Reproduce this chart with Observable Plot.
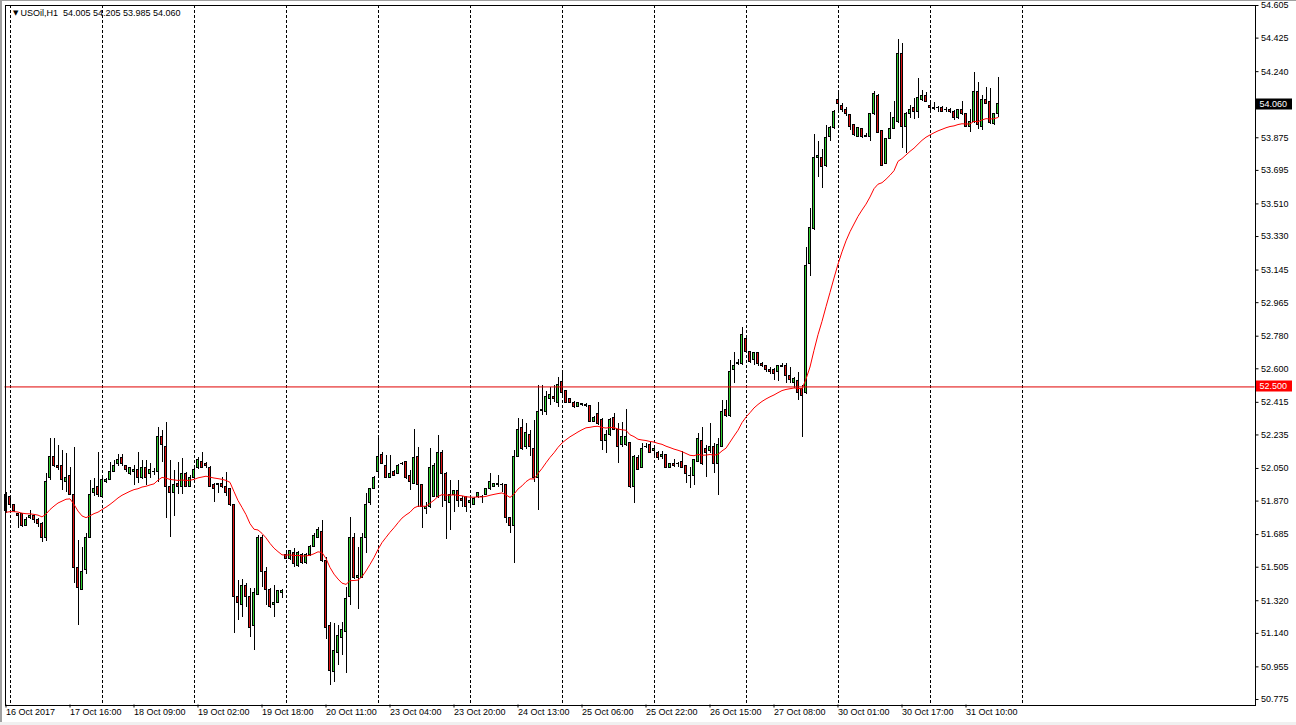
<!DOCTYPE html>
<html><head><meta charset="utf-8">
<script src="https://cdn.jsdelivr.net/npm/d3@7"></script>
<script src="https://cdn.jsdelivr.net/npm/@observablehq/plot@0.6"></script>
<style>
html,body{margin:0;padding:0;background:#fff;}
#wrap{position:relative;width:1296px;height:725px;overflow:hidden;background:#fff;}
.strip{position:absolute;pointer-events:none;}
</style></head><body><div id="wrap"></div>
<script>
const symbol = "USOil,H1";

const open = [
51.818,51.890,51.846,51.796,51.796,51.735,51.774,51.785,51.763,51.746,
51.664,51.995,52.111,52.066,52.066,51.978,52.006,51.901,51.498,51.382,
51.492,51.669,51.912,51.945,51.895,51.973,51.989,52.028,52.072,52.105,
52.061,52.022,52.028,52.044,52.000,52.055,52.022,52.028,52.028,52.226,
52.171,51.945,51.912,51.967,51.950,52.022,51.945,52.000,52.050,52.083,
52.072,52.055,51.956,51.962,51.967,51.950,51.939,51.851,51.338,51.299,
51.404,51.338,51.178,51.354,51.669,51.476,51.377,51.299,51.310,51.360,
51.575,51.553,51.581,51.509,51.575,51.526,51.570,51.619,51.669,51.702,
51.542,51.178,50.924,51.029,51.117,51.145,51.338,51.664,51.443,51.448,
51.669,51.857,51.939,52.033,52.127,52.066,52.000,52.033,52.022,52.072,
52.083,52.006,51.967,52.111,51.956,51.824,51.835,51.895,51.895,52.138,
52.022,51.857,51.906,51.923,51.884,51.890,51.857,51.846,51.890,51.895,
51.906,51.934,51.945,51.956,51.956,51.956,51.774,51.730,52.116,52.276,
52.166,52.232,52.160,51.995,52.370,52.364,52.431,52.442,52.414,52.525,
52.475,52.431,52.414,52.387,52.403,52.398,52.392,52.309,52.348,52.320,
52.199,52.232,52.326,52.265,52.177,52.177,52.188,51.950,52.105,52.055,
52.171,52.182,52.144,52.133,52.116,52.122,52.055,52.077,52.072,52.088,
52.061,52.011,52.006,52.088,52.204,52.155,52.149,52.171,52.072,52.171,
52.370,52.342,52.596,52.630,52.624,52.767,52.690,52.646,52.685,52.629,
52.613,52.596,52.596,52.580,52.612,52.618,52.558,52.519,52.535,52.486,
52.464,53.181,53.369,53.761,53.761,53.717,53.877,53.927,54.086,54.053,
54.031,53.998,53.943,53.877,53.921,53.882,53.877,54.009,54.108,53.910,
53.733,53.871,53.921,53.960,54.340,53.937,54.009,54.037,54.015,54.081,
54.108,54.053,54.037,54.038,54.042,54.031,54.031,54.020,53.982,54.031,
54.009,53.932,53.960,54.130,53.932,54.086,54.075,53.949,54.005
];
const high = [
51.917,51.895,51.851,51.801,51.801,51.779,51.818,51.790,51.774,51.752,
52.022,52.215,52.215,52.177,52.149,52.133,52.055,52.166,51.652,51.614,
51.691,51.984,51.995,52.138,51.995,51.995,52.083,52.094,52.127,52.127,
52.066,52.055,52.066,52.138,52.094,52.094,52.077,52.050,52.276,52.259,
52.304,52.094,52.039,52.083,52.105,52.028,52.011,52.050,52.111,52.138,
52.083,52.061,51.967,51.967,52.000,52.028,51.939,51.851,51.432,51.437,
51.415,51.388,51.388,51.680,51.680,51.503,51.388,51.404,51.377,51.382,
51.586,51.597,51.608,51.592,51.581,51.581,51.625,51.691,51.724,51.763,
51.559,51.200,51.194,51.183,51.200,51.393,51.779,51.691,51.614,51.691,
51.912,51.939,52.006,52.221,52.138,52.122,52.122,52.039,52.072,52.083,
52.088,52.039,52.265,52.166,51.956,51.862,52.160,52.077,52.232,52.149,
52.028,51.984,51.928,51.984,51.895,51.890,51.901,51.890,51.912,51.901,
51.939,52.022,51.967,52.011,51.967,51.962,51.779,52.149,52.326,52.320,
52.298,52.259,52.315,52.508,52.508,52.475,52.497,52.508,52.552,52.580,
52.480,52.436,52.420,52.414,52.409,52.409,52.398,52.337,52.414,52.326,
52.259,52.326,52.353,52.298,52.304,52.375,52.193,52.122,52.122,52.188,
52.188,52.193,52.171,52.144,52.144,52.127,52.077,52.099,52.083,52.144,
52.066,52.055,52.094,52.243,52.276,52.177,52.298,52.188,52.215,52.425,
52.425,52.646,52.690,52.652,52.828,52.773,52.696,52.685,52.690,52.635,
52.618,52.607,52.602,52.618,52.629,52.629,52.607,52.552,52.580,52.508,
53.268,53.485,53.893,53.855,53.810,53.943,53.938,54.026,54.125,54.064,
54.042,53.998,53.943,53.932,53.927,53.899,54.009,54.130,54.114,53.910,
53.871,54.015,54.075,54.417,54.395,54.015,54.053,54.092,54.202,54.136,
54.125,54.075,54.070,54.048,54.048,54.042,54.037,54.026,54.031,54.075,
54.011,54.031,54.235,54.180,54.108,54.152,54.147,54.009,54.205
];
const low = [
51.802,51.840,51.807,51.719,51.724,51.730,51.768,51.746,51.724,51.641,
51.647,51.984,52.055,52.039,51.928,51.917,51.901,51.415,51.183,51.377,
51.465,51.664,51.895,51.890,51.884,51.967,51.984,52.028,52.061,52.061,
52.028,52.011,51.956,51.967,51.989,51.956,51.995,52.011,51.973,52.083,
51.774,51.669,51.785,51.906,51.906,51.945,51.945,51.989,52.044,52.050,
52.050,51.945,51.862,51.912,51.939,51.895,51.840,51.139,51.211,51.227,
51.283,51.117,51.046,51.349,51.393,51.294,51.278,51.227,51.305,51.332,
51.548,51.542,51.503,51.503,51.520,51.520,51.564,51.614,51.664,51.531,
51.106,50.852,50.869,50.962,51.018,50.918,51.294,51.437,51.272,51.443,
51.581,51.846,51.934,52.000,52.072,51.995,51.995,52.006,52.017,52.066,
51.989,51.928,51.962,51.835,51.719,51.796,51.829,51.890,51.884,51.835,
51.658,51.708,51.807,51.835,51.835,51.807,51.846,51.846,51.884,51.857,
51.901,51.928,51.945,51.945,51.917,51.746,51.691,51.526,52.111,52.149,
52.155,52.116,51.973,51.818,52.342,52.342,52.398,52.414,52.387,52.442,
52.409,52.409,52.381,52.387,52.392,52.387,52.304,52.304,52.287,52.149,
52.133,52.226,52.259,52.077,52.166,52.171,51.939,51.857,52.039,52.050,
52.160,52.133,52.105,52.094,52.099,52.050,52.050,52.055,52.055,52.050,
51.967,51.939,51.956,52.083,52.066,52.000,52.133,52.022,51.901,52.166,
52.331,52.331,52.519,52.618,52.618,52.685,52.630,52.618,52.613,52.607,
52.580,52.569,52.535,52.530,52.607,52.519,52.519,52.491,52.425,52.221,
52.458,53.110,53.364,53.656,53.595,53.711,53.855,53.921,54.026,54.015,
53.993,53.915,53.882,53.875,53.871,53.877,53.855,53.998,53.899,53.717,
53.728,53.866,53.921,53.954,53.816,53.788,53.982,53.976,53.982,54.075,
54.070,54.026,54.026,54.015,54.015,54.015,54.009,53.971,53.976,53.998,
53.930,53.904,53.954,53.921,53.915,54.059,53.949,53.943,53.985
];
const close = [
51.901,51.851,51.813,51.785,51.730,51.768,51.790,51.763,51.746,51.669,
51.978,52.111,52.061,52.055,51.989,52.000,51.906,51.503,51.388,51.481,
51.669,51.906,51.939,51.901,51.989,51.989,52.028,52.066,52.099,52.072,
52.039,52.050,52.039,51.995,52.055,52.000,52.044,52.033,52.221,52.177,
51.945,51.912,51.956,51.950,52.017,51.950,52.000,52.044,52.094,52.055,
52.061,51.945,51.939,51.956,51.945,51.917,51.846,51.338,51.305,51.399,
51.338,51.172,51.360,51.664,51.476,51.382,51.283,51.310,51.371,51.371,
51.553,51.592,51.520,51.586,51.526,51.570,51.614,51.675,51.713,51.542,
51.172,50.935,51.045,51.128,51.156,51.332,51.664,51.448,51.459,51.664,
51.851,51.934,52.000,52.111,52.077,52.000,52.022,52.011,52.066,52.074,
51.995,51.978,52.105,51.956,51.835,51.840,52.055,52.061,52.133,52.022,
51.873,51.901,51.923,51.873,51.868,51.835,51.868,51.884,51.912,51.890,
51.934,51.973,51.962,51.962,51.958,51.779,51.730,52.111,52.265,52.155,
52.243,52.166,51.995,52.364,52.369,52.442,52.453,52.431,52.508,52.469,
52.414,52.414,52.387,52.409,52.404,52.397,52.309,52.331,52.298,52.204,
52.232,52.320,52.265,52.171,52.221,52.226,51.950,52.111,52.044,52.160,
52.169,52.138,52.160,52.105,52.122,52.055,52.077,52.061,52.077,52.055,
52.017,52.006,52.094,52.210,52.072,52.133,52.166,52.077,52.182,52.364,
52.337,52.580,52.613,52.629,52.784,52.690,52.635,52.685,52.624,52.613,
52.591,52.580,52.574,52.613,52.613,52.558,52.536,52.541,52.469,52.452,
53.170,53.375,53.761,53.777,53.711,53.872,53.927,54.015,54.059,54.026,
54.004,53.937,53.888,53.927,53.877,53.883,54.004,54.119,53.904,53.722,
53.866,53.921,53.982,54.340,53.937,54.009,54.031,54.015,54.092,54.108,
54.075,54.037,54.036,54.037,54.020,54.030,54.015,53.982,54.031,54.004,
53.932,53.960,54.130,53.943,54.081,54.064,53.954,54.004,54.060
];

// time-axis labels (every 16 bars) and vertical grid (every 23 bars)
const labelBars = [0,16,32,48,64,80,96,112,128,144,160,176,192,208,224,240];
const timeLabels = ["16 Oct 2017","17 Oct 16:00","18 Oct 09:00","19 Oct 02:00","19 Oct 18:00","20 Oct 11:00",
  "23 Oct 04:00","23 Oct 20:00","24 Oct 13:00","25 Oct 06:00","25 Oct 22:00","26 Oct 15:00",
  "27 Oct 08:00","30 Oct 01:00","30 Oct 17:00","31 Oct 10:00"];
const gridBars = [1,24,47,70,93,116,139,162,185,208,231,254];
const priceTicks = [54.605,54.425,54.240,54.060,53.875,53.695,53.510,53.330,53.145,52.965,52.780,
  52.600,52.415,52.235,52.050,51.870,51.685,51.505,51.320,51.140,50.955,50.775];
const levelLine = 52.500;
const emaPeriod = 24;
const emaSeed = 51.80;

const bars = open.map((o, i) => ({i, open: o, high: high[i], low: low[i], close: close[i]}));
let e = emaSeed;
const maData = close.map((c, i) => { e = e + (c - e) * 2 / (emaPeriod + 1); return {i, v: e}; });
const labelMap = new Map(labelBars.map((b, k) => [b, timeLabels[k]]));
const last = bars[bars.length - 1];
const title = `${symbol}  ${last.open.toFixed(3)} ${last.high.toFixed(3)} ${last.low.toFixed(3)} ${last.close.toFixed(3)}`;
// the tick under the current-price box is covered by that box
const axisTicks = priceTicks.filter(v => Math.abs(v - last.close) > 1e-9);

const GREEN = "#32cd32", RED = "#dc1414";
const FONT = "'Liberation Sans', Arial, sans-serif";

const chart = Plot.plot({
  width: 1296, height: 725,
  marginLeft: 4.5, marginRight: 41.5, marginTop: 4.5, marginBottom: 20.5,
  style: {background: "#fff", fontFamily: FONT, fontSize: "9px", color: "#000", overflow: "visible"},
  x: {type: "linear", domain: [-0.25, 312.25]},
  y: {type: "linear", domain: [50.7446, 54.6078]},
  marks: [
    Plot.ruleX(gridBars, {x: d => d, stroke: "#000", strokeDasharray: "3,2", shapeRendering: "crispEdges"}),
    Plot.ruleX(bars, {x: "i", y1: "low", y2: "high", stroke: "#000", strokeWidth: 1, shapeRendering: "crispEdges"}),
    // body outline (3 px wide, black)
    Plot.rect(bars, {
      x1: d => d.i - 0.375, x2: d => d.i + 0.375,
      y1: d => Math.min(d.open, d.close), y2: d => Math.max(d.open, d.close),
      insetTop: -0.5, insetBottom: -0.5,
      fill: "#000", shapeRendering: "crispEdges"
    }),
    // body interior (1 px wide, coloured)
    Plot.rect(bars, {
      x1: d => d.i - 0.125, x2: d => d.i + 0.125,
      y1: d => Math.min(d.open, d.close), y2: d => Math.max(d.open, d.close),
      insetTop: 0.5, insetBottom: 0.5,
      fill: d => d.close >= d.open ? GREEN : RED, shapeRendering: "crispEdges"
    }),
    Plot.ruleY([levelLine], {y: d => d, stroke: "#e00000", strokeWidth: 1}),
    Plot.line(maData, {x: "i", y: "v", stroke: "#ff0000", strokeWidth: 1}),
    Plot.frame({stroke: "#000", shapeRendering: "crispEdges"}),
    Plot.axisY({anchor: "right", ticks: axisTicks, tickFormat: d => d.toFixed(3), tickSize: 3, tickPadding: 3, label: null, fill: "#000", stroke: "#000"}),
    Plot.axisX({anchor: "bottom", ticks: labelBars, tickFormat: d => labelMap.get(d), tickSize: 3, tickPadding: 1, textAnchor: "start", label: null, fill: "#000", stroke: "#000"}),
    Plot.text(["\u25BC"], {frameAnchor: "top-left", dx: 8, dy: 8, textAnchor: "start", lineAnchor: "middle", fontSize: 7, fontFamily: "DejaVu Sans", fill: "#000"}),
    Plot.text([title], {frameAnchor: "top-left", dx: 15.5, dy: 8.5, textAnchor: "start", lineAnchor: "middle", fill: "#000"})
  ]
});

const wrap = document.getElementById("wrap");
wrap.appendChild(chart);

// price label boxes on the right scale
const ys = chart.scale("y");
const svg = d3.select(chart);
function priceBox(v, bg, fg) {
  const yy = ys.apply(v);
  svg.append("rect").attr("x", 1256).attr("y", Math.round(yy) - 5.5).attr("width", 36).attr("height", 11).attr("fill", bg);
  svg.append("text").attr("x", 1259.5).attr("y", yy).attr("dy", "0.34em").attr("fill", fg)
     .attr("text-anchor", "start").attr("font-size", 9).attr("font-family", FONT).text(v.toFixed(3));
}
priceBox(last.close, "#000", "#fff");
priceBox(levelLine, "#ff0000", "#fff");

// window chrome
[["left:0;top:0;width:2px;height:725px;background:#a0a0a0"],
 ["left:0;top:0;width:1296px;height:1px;background:#a0a0a0"],
 ["left:0;top:722px;width:1296px;height:3px;background:#f0f0f0"]].forEach(([css]) => {
  const d = document.createElement("div"); d.className = "strip"; d.style.cssText = css; wrap.appendChild(d);
});
</script></body></html>
